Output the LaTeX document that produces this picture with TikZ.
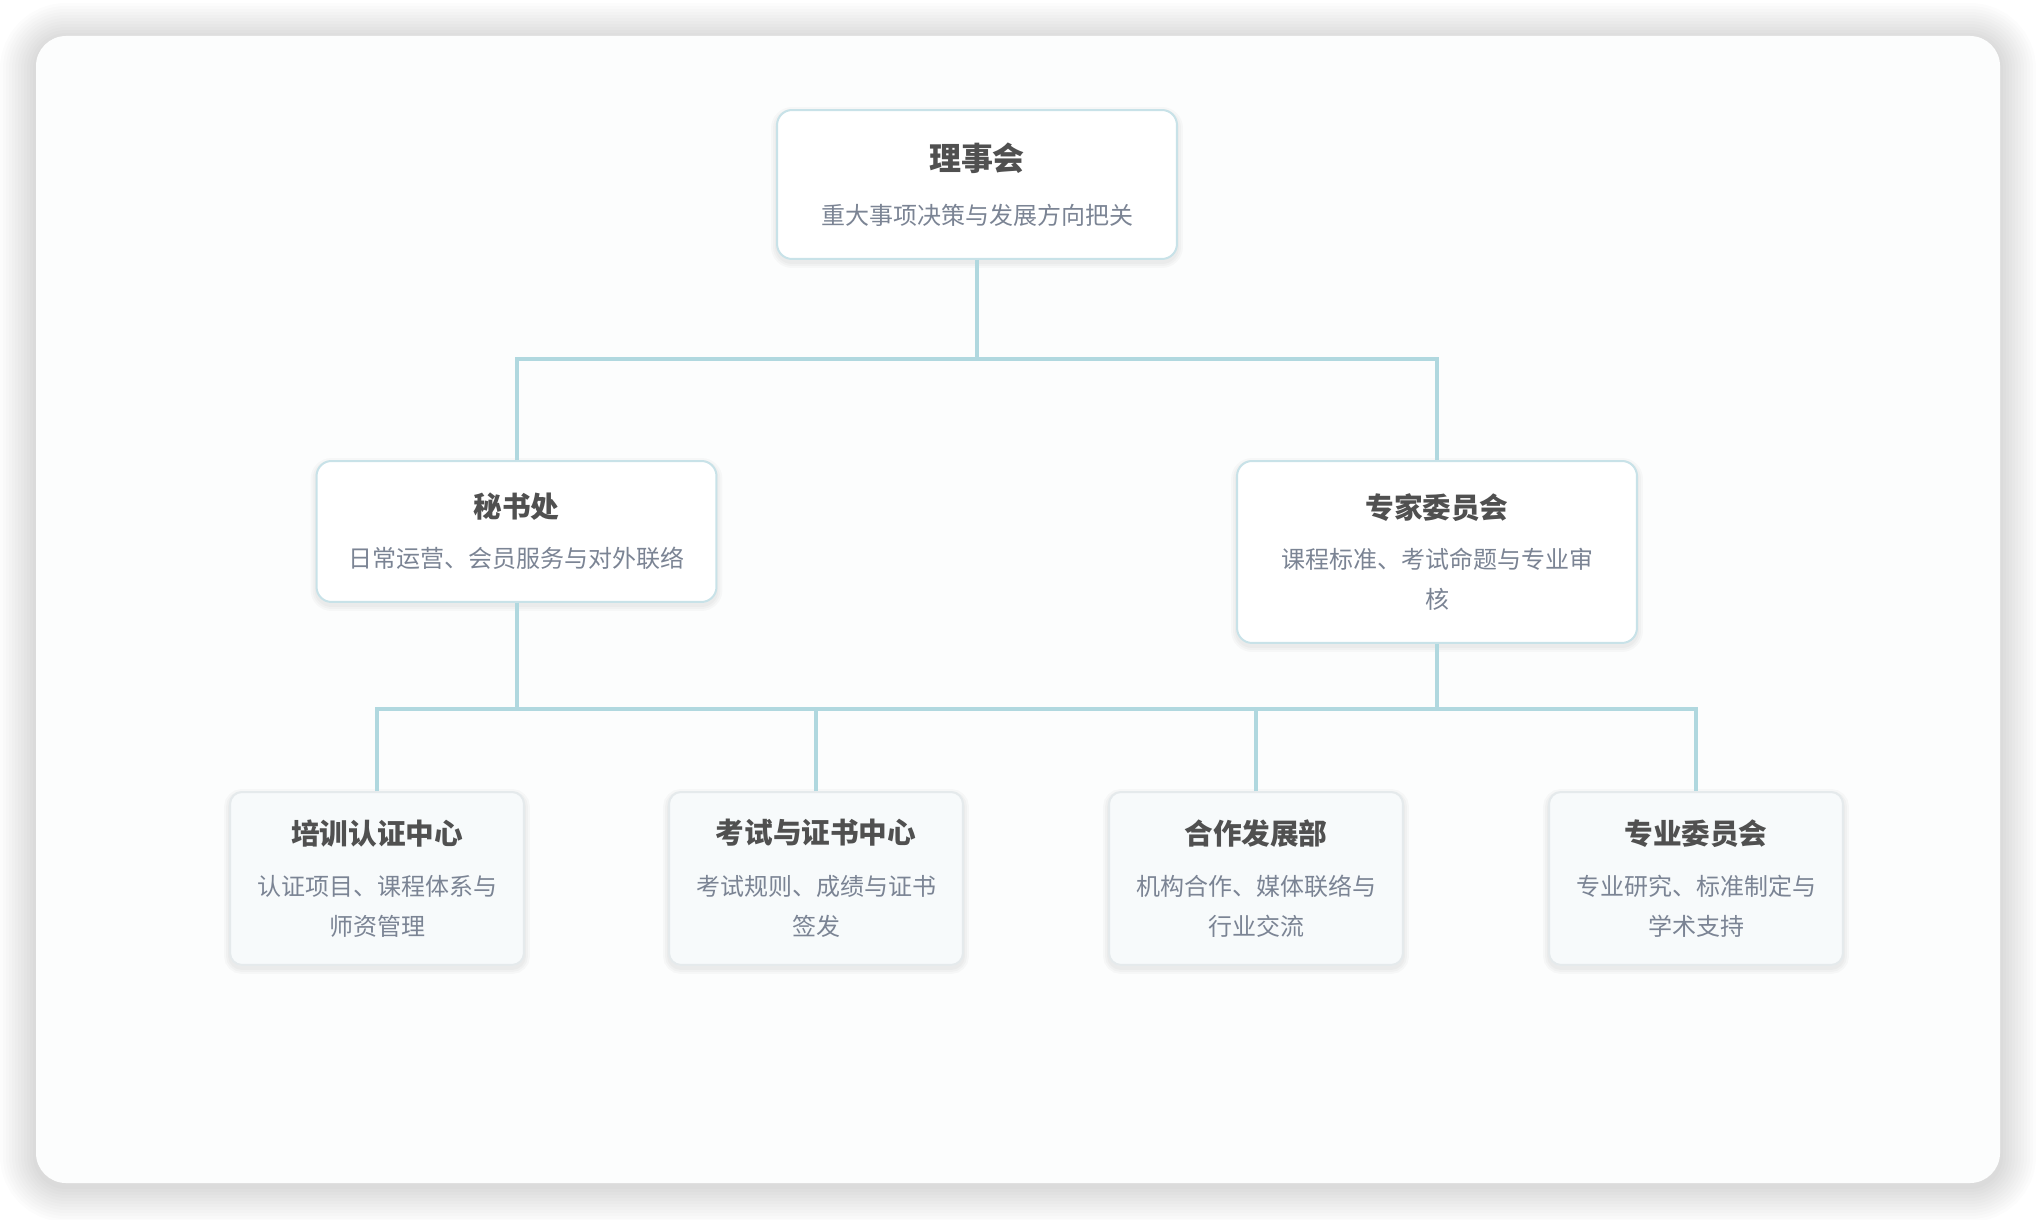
\documentclass[tikz,border=0pt]{standalone}
\usepackage{fontspec}
\usepackage{xcolor}
\usepackage{tikz}

\newfontfamily\cjk{Noto Sans CJK SC}

\definecolor{cardbg}{HTML}{FCFDFD}
\definecolor{linkblue}{HTML}{B0D8DF}
\definecolor{unitline}{HTML}{C8E2E8}
\definecolor{deptline}{HTML}{E5EAEC}
\definecolor{deptbg}{HTML}{F7FAFB}
\definecolor{titlegray}{HTML}{505050}
\definecolor{subgray}{HTML}{7B8494}

\newcommand\subsize{\fontsize{13.66pt}{22.76pt}\selectfont}
\newcommand\unittitle[1]{{\bfseries\fontsize{16.3pt}{20pt}\selectfont\color{titlegray}#1}}
\newcommand\toptitle[1]{{\bfseries\fontsize{18.2pt}{22pt}\selectfont\color{titlegray}#1}}

\begin{document}
\begin{tikzpicture}[
        x=0.02cm, y=-0.02cm,
        cardshade/.style={preaction={draw=black, draw opacity=0.012, line width=#1*0.02cm, transform canvas={yshift=-0.06cm}}},
        boxshade/.style={preaction={draw=black, draw opacity=0.025, line width=#1*0.02cm, transform canvas={yshift=-0.06cm}}},
        card/.style={rounded corners=0.6cm, fill=cardbg, cardshade/.list={6,12,...,72}},
        unitbox/.style={rectangle, rounded corners=0.3cm, draw=unitline, line width=0.04cm, fill=white, align=center, minimum width=8cm, minimum height=2.82cm, inner sep=0pt, font=\cjk\subsize, text=subgray, boxshade/.list={4,8,12}},
        deptbox/.style={unitbox, rounded corners=0.24cm, draw=deptline, fill=deptbg, minimum width=5.88cm, minimum height=3.46cm},
        link/.style={draw=linkblue, line width=0.08cm}
    ]
        \useasboundingbox (0,0) rectangle (2038,1220);
        \path[card] (36,36) rectangle (2000,1183);

        \node[unitbox, minimum height=2.98cm] (council) at (977,184.5) {\toptitle{理事会}\\[7.9pt]重大事项决策与发展方向把关};
        \node[unitbox, anchor=north] (secretariat) at (516.5,460) {\unittitle{秘书处}\\[5.7pt]日常运营、会员服务与对外联络};
        \node[unitbox, anchor=north, minimum height=3.64cm] (experts) at (1437,460) {\unittitle{专家委员会}\\[5.7pt]课程标准、考试命题与专业审\\核};

        \node[deptbox, anchor=north] (training) at (377,791) {\unittitle{培训认证中心}\\[6.6pt]认证项目、课程体系与\\师资管理};
        \node[deptbox, anchor=north] (exam) at (816,791) {\unittitle{考试与证书中心}\\[6.6pt]考试规则、成绩与证书\\签发};
        \node[deptbox, anchor=north] (partner) at (1256,791) {\unittitle{合作发展部}\\[6.6pt]机构合作、媒体联络与\\行业交流};
        \node[deptbox, anchor=north] (specialty) at (1696,791) {\unittitle{专业委员会}\\[6.6pt]专业研究、标准制定与\\学术支持};

        \coordinate (busHigh) at (977,359);
        \coordinate (busLow) at (977,709);

        \draw[link] (council.south) -- (busHigh);
        \draw[link] (secretariat.north) |- (experts.north |- busHigh) -- (experts.north);
        \draw[link] (secretariat.south) -- (secretariat.south |- busLow);
        \draw[link] (experts.south) -- (experts.south |- busLow);
        \draw[link] (training.north) |- (specialty.north |- busLow) -- (specialty.north);
        \draw[link] (exam.north) -- (exam.north |- busLow);
        \draw[link] (partner.north) -- (partner.north |- busLow);
    \end{tikzpicture}
\end{document}
